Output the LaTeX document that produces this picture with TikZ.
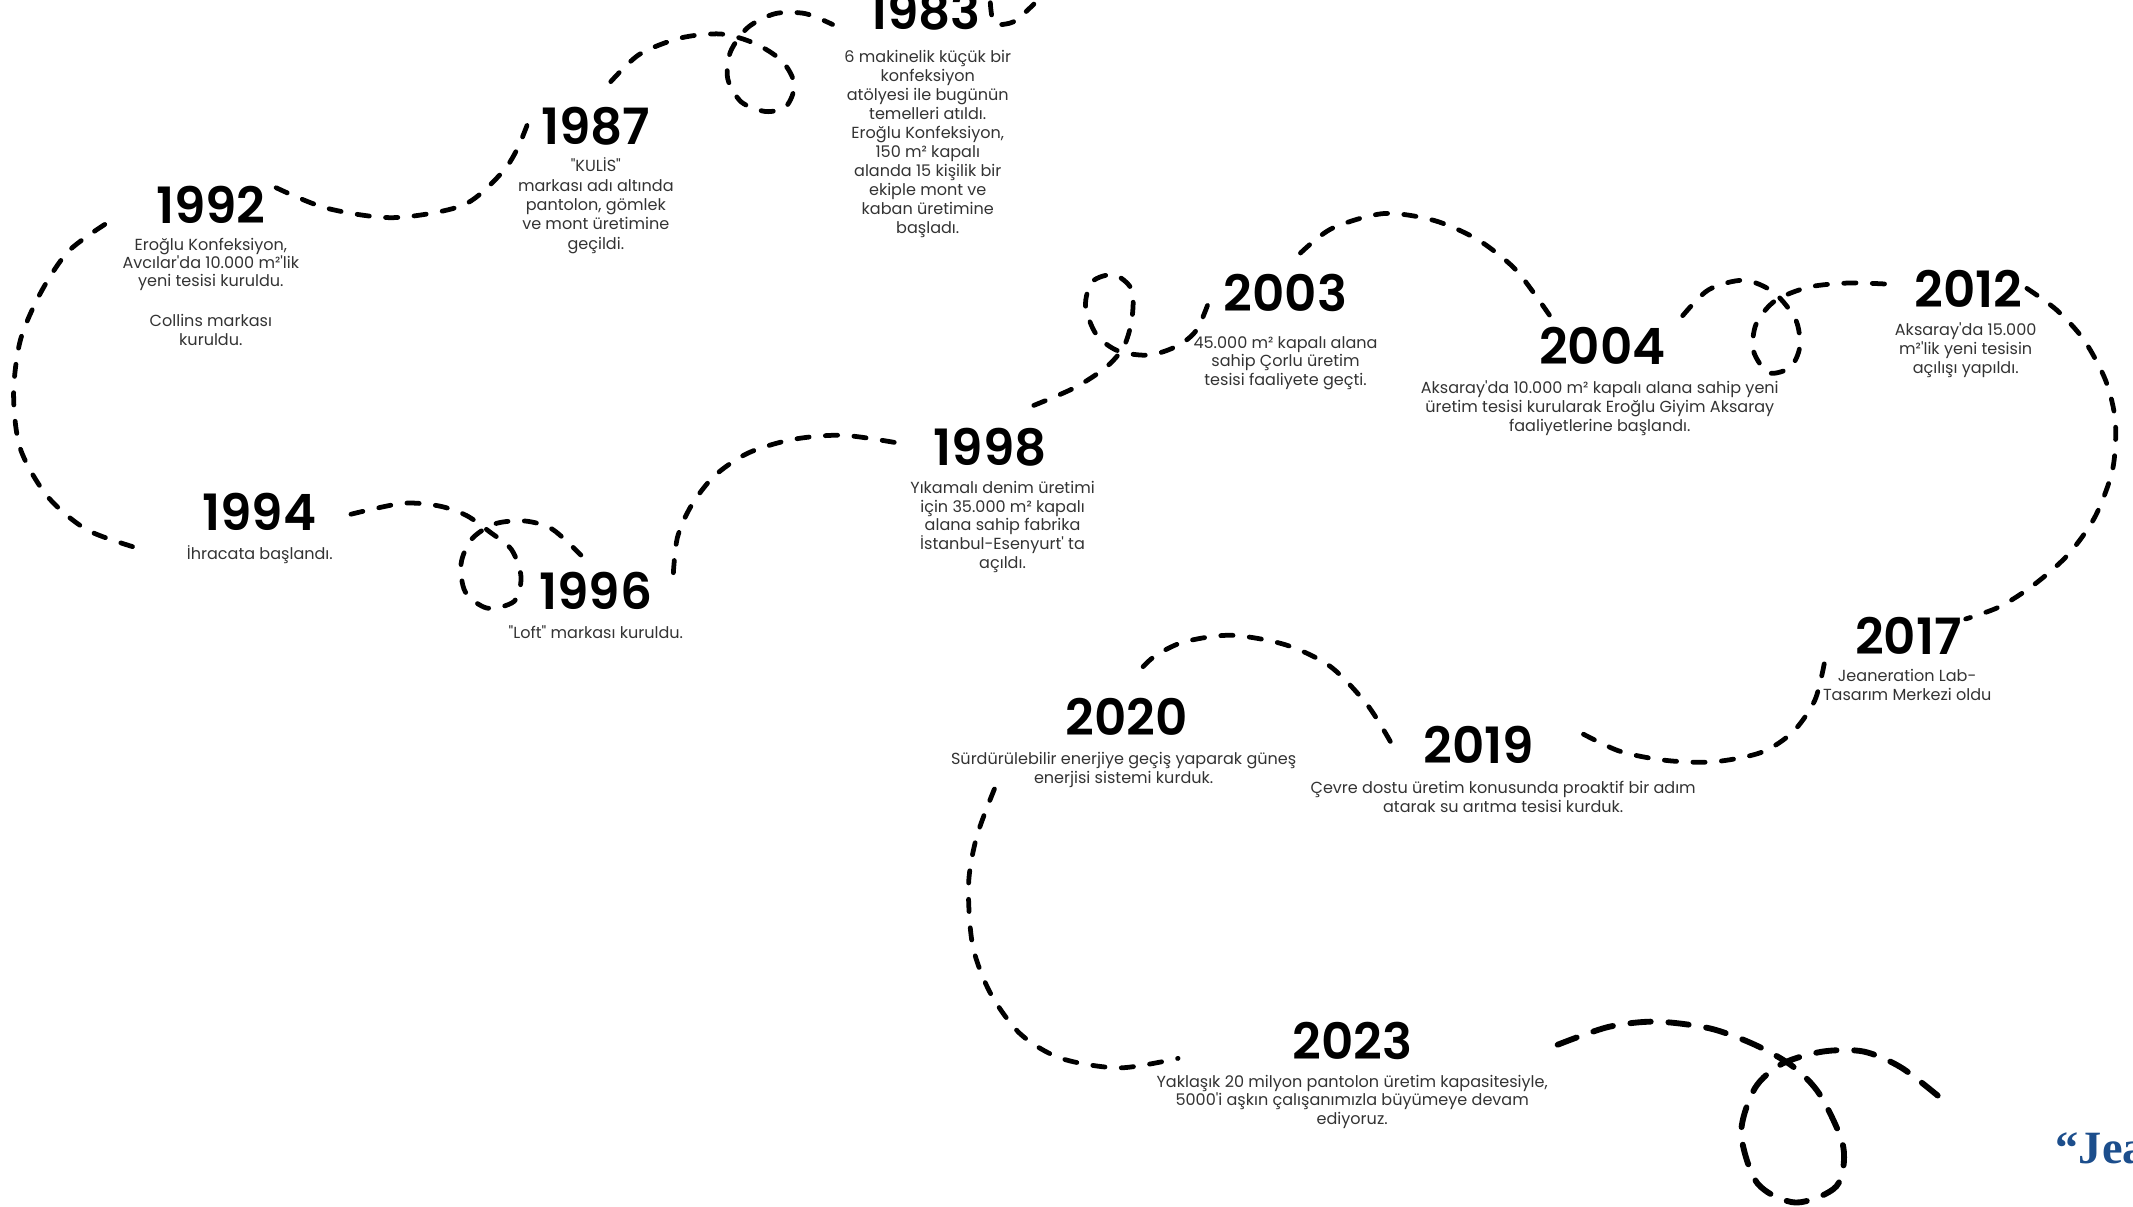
\documentclass[tikz,border=0pt]{standalone}
\usepackage{fontspec}
\setmainfont{Poppins}
\IfFontExistsTF{Poppins SemiBold}
 {\newfontfamily\yearfam{Poppins SemiBold}\newcommand\yearfont{\yearfam}}
 {\newfontfamily\yearfam{Poppins}\newcommand\yearfont{\yearfam\bfseries}}
\newfontfamily\jfont{Liberation Serif}
\newcommand\myap{\textquotesingle}
\newcommand\myqd{\textquotedbl}
\definecolor{txt}{HTML}{333333}
\definecolor{jblue}{HTML}{1C4E8C}
\tikzset{
 yr/.style={font=\yearfont\fontsize{36.8}{40}\selectfont, anchor=base, inner sep=0pt, text=black},
 desc/.style={font=\fontsize{11.8}{13.8}\selectfont, align=center, anchor=north, inner sep=0pt, text=txt,
   execute at begin node={\rule{0pt}{10pt}}},
 dsh/.style={line width=3.5pt, dash pattern=on 9pt off 12pt, line cap=round, draw=black},
 dshthick/.style={dsh, line width=4.3pt, dash pattern=on 15pt off 13pt},
}
\begin{document}
\begin{tikzpicture}[x=1pt,y=-1pt]
\useasboundingbox (0,0) rectangle (1568,886.6);
% years and descriptions (desc nodes: y = first baseline - 8)
\node[yr] (y1983) at (680,22) {1983};
\node[desc,font=\fontsize{11.8}{13.9}\selectfont] (d1983) at (682,37) {6 makinelik küçük bir\\konfeksiyon\\atölyesi ile bugünün\\temelleri atıldı.\\Eroğlu Konfeksiyon,\\150 m² kapalı\\alanda 15 kişilik bir\\ekiple mont ve\\kaban üretimine\\başladı.};
\node[yr] (y1987) at (438,106) {1987};
\node[desc,font=\fontsize{11.8}{14.2}\selectfont] (d1987) at (438,116) {\myqd KULİS\myqd\\markası adı altında\\pantolon, gömlek\\ve mont üretimine\\geçildi.};
\node[yr] (y1992) at (155,164) {1992};
\node[desc,font=\fontsize{11.8}{13.5}\selectfont] (d1992) at (155,174.6) {Eroğlu Konfeksiyon,\\Avcılar\myap da 10.000 m²\myap lik\\yeni tesisi kuruldu.\\[16pt]Collins markası\\kuruldu.};
\node[yr] (y1994) at (190.5,390) {1994};
\node[desc] (d1994) at (191,401) {İhracata başlandı.};
\node[yr] (y1996) at (438,448) {1996};
\node[desc] (d1996) at (438,459) {\myqd Loft\myqd\ markası kuruldu.};
\node[yr] (y1998) at (728,342) {1998};
\node[desc] (d1998) at (737,353.5) {Yıkamalı denim üretimi\\için 35.000 m² kapalı\\alana sahip fabrika\\İstanbul-Esenyurt\myap\ ta\\açıldı.};
\node[yr] (y2003) at (945,229) {2003};
\node[desc] (d2003) at (945,247) {45.000 m² kapalı alana\\sahip Çorlu üretim\\tesisi faaliyete geçti.};
\node[yr] (y2004) at (1178,268) {2004};
\node[desc] (d2004) at (1176,280) {Aksaray\myap da 10.000 m² kapalı alana sahip yeni\\üretim tesisi kurularak Eroğlu Giyim Aksaray\\faaliyetlerine başlandı.};
\node[yr] (y2012) at (1447,226) {2012};
\node[desc] (d2012) at (1445,237) {Aksaray\myap da 15.000\\m²\myap lik yeni tesisin\\açılışı yapıldı.};
\node[yr] (y2017) at (1403,481) {2017};
\node[desc] (d2017) at (1402,492) {Jeaneration Lab-\\Tasarım Merkezi oldu};
\node[yr] (y2019) at (1087,561) {2019};
\node[desc] (d2019) at (1105,574) {Çevre dostu üretim konusunda proaktif bir adım\\atarak su arıtma tesisi kurduk.};
\node[yr] (y2020) at (828,541) {2020};
\node[desc] (d2020) at (826,553) {Sürdürülebilir enerjiye geçiş yaparak güneş\\enerjisi sistemi kurduk.};
\node[yr] (y2023) at (994,779) {2023};
\node[desc] (d2023) at (994,790) {Yaklaşık 20 milyon pantolon üretim kapasitesiyle,\\5000\myap i aşkın çalışanımızla büyümeye devam\\ediyoruz.};
\node[font=\jfont\bfseries\fontsize{34}{34}\selectfont, text=jblue, anchor=base west, inner sep=0pt] (jq) at (1511,855) {“Jea};
% curve end points
\coordinate (a0) at (77,165);   \coordinate (a1) at (108,405);
\coordinate (b0) at (203,138);  \coordinate (b1) at (389,88);
\coordinate (c0) at (449,60);   \coordinate (c1) at (612,18);
\coordinate (dd0) at (728,2);   \coordinate (dd1) at (760,3);
\coordinate (e0) at (258,378);  \coordinate (e1) at (427,408);
\coordinate (f0) at (495,421);  \coordinate (f1) at (662,326);
\coordinate (g0) at (760,298);  \coordinate (g1) at (890,218);
\coordinate (h0) at (956,186);  \coordinate (h1) at (1142,236);
\coordinate (i0) at (1237,232); \coordinate (i1) at (1390,209);
\coordinate (j0) at (1490,212); \coordinate (j1) at (1445,455);
\coordinate (k0) at (1341,488); \coordinate (k1) at (1157,536);
\coordinate (l0) at (1022,545); \coordinate (l1) at (835,496);
\coordinate (m0) at (731,580);  \coordinate (m1) at (866,778);
\coordinate (n0) at (1145,768); \coordinate (n1) at (1430,810);
% curves
\draw[dsh] plot[smooth] coordinates {(a0) (50,185) (30,215) (15,250) (10,290) (15,330) (35,365) (65,390) (a1)};
\draw[dsh] plot[smooth] coordinates {(b0) (240,153) (289,160) (340,151) (368,128) (380,110) (b1)};
\draw[dsh] plot[smooth] coordinates {(c0) (470,40) (500,28) (530,25) (555,32) (575,45) (584,62) (578,78) (563,82) (545,75) (535,58) (537,38) (550,20) (570,10) (592,10) (c1)};
\draw[dsh] plot[smooth] coordinates {(dd0) (731,17) (745,16) (dd1)};
\draw[dsh] plot[smooth] coordinates {(e0) (296,370) (323,372) (343,379) (360,391) (376,404) (383,424) (378,442) (358,447) (342,435) (339,414) (347,396) (364,385) (386,383) (406,389) (e1)};
\draw[dsh] plot[smooth] coordinates {(f0) (498,395) (508,372) (525,350) (550,333) (583,323) (620,320) (f1)};
\draw[dsh] plot[smooth] coordinates {(g0) (790,285) (813,270) (826,255) (832,235) (832,213) (819,202) (803,207) (798,225) (806,246) (822,258) (845,261) (866,254) (880,242) (g1)};
\draw[dsh] plot[smooth] coordinates {(h0) (979,168) (1017,157) (1054,162) (1086,176) (1112,196) (1128,216) (h1)};
\draw[dsh] plot[smooth] coordinates {(i0) (1256,213) (1282,206) (1304,215) (1320,235) (1323,255) (1316,270) (1300,274) (1289,258) (1291,238) (1305,221) (1330,211) (1360,208) (i1)};
\draw[dsh] plot[smooth] coordinates {(j0) (1512,228) (1532,250) (1548,280) (1555,310) (1553,345) (1540,380) (1520,408) (1495,430) (1470,446) (j1)};
\draw[dsh] plot[smooth] coordinates {(k0) (1334,515) (1318,538) (1295,553) (1260,560) (1225,559) (1190,552) (k1)};
\draw[dsh] plot[smooth] coordinates {(l0) (1005,518) (978,490) (945,474) (905,467) (870,472) (848,483) (l1)};
\draw[dsh] plot[smooth] coordinates {(m0) (718,615) (712,650) (715,695) (728,730) (750,760) (780,778) (823,785) (m1)};
\draw[dshthick] plot[smooth] coordinates {(n0) (1182,755) (1217,751) (1257,756) (1290,768) (1318,784) (1338,805) (1355,843) (1350,872) (1320,884) (1292,870) (1280,833) (1290,800) (1310,782) (1340,773) (1370,773) (1398,785) (n1)};
\end{tikzpicture}
\end{document}
